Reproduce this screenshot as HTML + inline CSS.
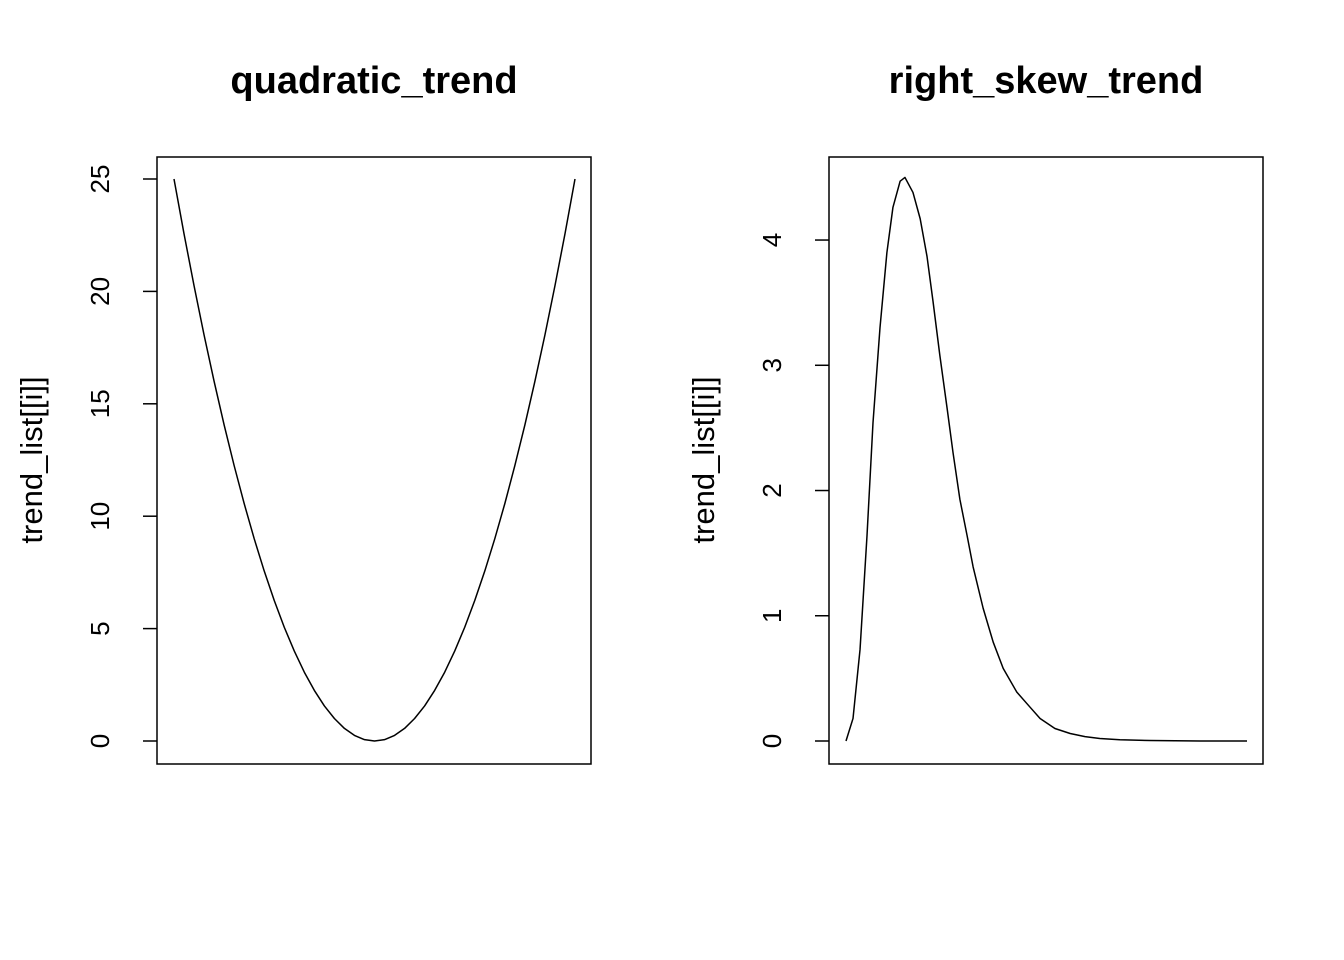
<!DOCTYPE html>
<html><head><meta charset="utf-8"><style>
html,body{margin:0;padding:0;background:#fff;}
svg{display:block;font-family:"Liberation Sans",Arial,sans-serif;}
</style></head><body>
<svg id="c" width="1344" height="960" viewBox="0 0 1344 960"></svg>
<script>
const quadX = [-5,-4.75,-4.5,-4.25,-4,-3.75,-3.5,-3.25,-3,-2.75,-2.5,-2.25,-2,-1.75,-1.5,-1.25,-1,-0.75,-0.5,-0.25,0,0.25,0.5,0.75,1,1.25,1.5,1.75,2,2.25,2.5,2.75,3,3.25,3.5,3.75,4,4.25,4.5,4.75,5];
const quadY = [25,22.56,20.25,18.06,16,14.06,12.25,10.56,9,7.56,6.25,5.06,4,3.06,2.25,1.56,1,0.56,0.25,0.06,0,0.06,0.25,0.56,1,1.56,2.25,3.06,4,5.06,6.25,7.56,9,10.56,12.25,14.06,16,18.06,20.25,22.56,25];
const quadTicks = [0,5,10,15,20,25];
const skewX = [0,1.75,3.5,5.24,6.73,8.48,10.2,11.7,13.5,14.7,16.7,18.5,20.2,21.7,23.4,25.2,26.7,28.4,30.2,31.7,34.2,36.7,39.2,42.6,45.9,48.4,52.1,55.9,59.6,63.3,68.3,75.8,88.3,100];
const skewY = [0,0.18,0.73,1.64,2.54,3.30,3.90,4.26,4.47,4.50,4.38,4.17,3.87,3.51,3.08,2.66,2.30,1.93,1.64,1.39,1.06,0.79,0.58,0.39,0.27,0.18,0.10,0.06,0.035,0.02,0.01,0.004,0,0];
const skewTicks = [0,1,2,3,4];

const NS="http://www.w3.org/2000/svg";
const svg=document.getElementById('c');
function mk(t,a,p){const e=document.createElementNS(NS,t);for(const k in a)e.setAttribute(k,a[k]);(p||svg).appendChild(e);return e;}

function panel(name,left,title,xs,ys,xmin,xmax,ymin,ymax,ticks){
  const g=mk('g',{});
  
  
  const bx0=left, bx1=left+434, by0=157, by1=764;
  const px0=left+17, px1=left+418, py0=741, py1=179;
  const sx=v=>px0+(v-xmin)/(xmax-xmin)*(px1-px0);
  const sy=v=>py0+(v-ymin)/(ymax-ymin)*(py1-py0);
  const box=mk('rect',{x:bx0,y:by0,width:bx1-bx0,height:by1-by0,fill:'none',stroke:'#000','stroke-width':1.5},g);
  
  
  const t=mk('text',{x:(bx0+bx1)/2,y:93,'text-anchor':'middle','font-size':'38','font-weight':'bold'},g);
  t.textContent=title;
  
  
  const ax=mk('g',{},g);
  
  
  ticks.forEach(v=>{
    const y=sy(v);
    mk('line',{x1:bx0-14,x2:bx0,y1:y,y2:y,stroke:'#000','stroke-width':1.5},ax);
    const l=mk('text',{x:0,y:0,transform:`translate(${bx0-48},${y}) rotate(-90)`,'text-anchor':'middle','font-size':'26'},ax);
    l.textContent=String(v);
    
    
  });
  const yt=mk('text',{x:0,y:0,transform:`translate(${bx0-115},460) rotate(-90)`,'text-anchor':'middle','font-size':'31'},g);
  yt.textContent='trend_list[[i]]';
  
  
  const pts=xs.map((x,i)=>sx(x).toFixed(2)+','+sy(ys[i]).toFixed(2)).join(' ');
  const ln=mk('polyline',{points:pts,fill:'none',stroke:'#000','stroke-width':1.5,'stroke-linejoin':'round'},g);
  
  
}
panel('quadratic-trend',157,'quadratic_trend',quadX,quadY,-5,5,0,25,quadTicks);
panel('right-skew-trend',829,'right_skew_trend',skewX,skewY,0,100,0,4.4874,skewTicks);
</script>
</body></html>
